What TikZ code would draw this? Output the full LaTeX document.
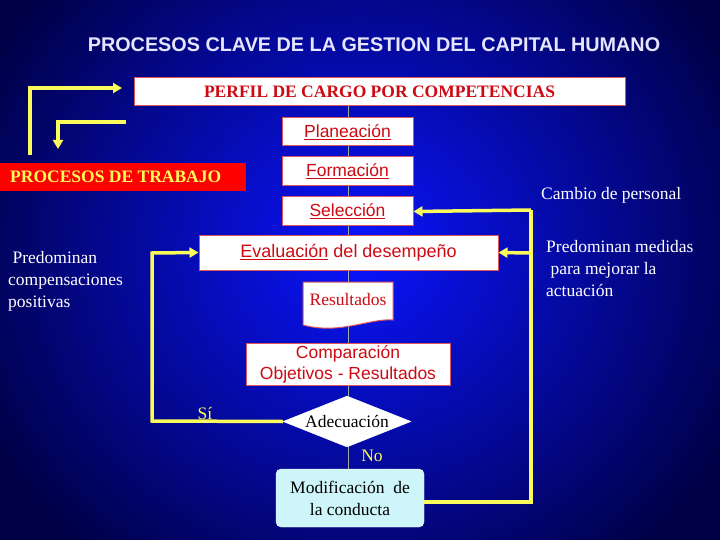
\documentclass[tikz,border=0pt]{standalone}
\usepackage{fontspec}
\setmainfont{Liberation Serif}
\newfontfamily\arial{Liberation Sans}
\usetikzlibrary{shapes.geometric,shapes.symbols,arrows.meta}
\definecolor{rtext}{RGB}{205,10,20}
\definecolor{ylw}{RGB}{250,250,90}
\definecolor{bgin}{RGB}{10,20,255}
\definecolor{bgout}{RGB}{0,0,70}
\definecolor{cyanbox}{RGB}{205,245,250}
\tikzset{
  wbox/.style={draw=rtext!70!white,line width=1pt,fill=white,inner sep=0pt,text=rtext},
  yl/.style={draw=ylw,line width=3.5pt},
  ya/.style={yl,-{Triangle[length=9pt,width=10pt]}},
  wt/.style={text=white,font=\fontsize{17.5}{22}\selectfont,align=left,inner sep=0pt},
}
\begin{document}
\begin{tikzpicture}[x=1pt,y=-1pt]
\useasboundingbox (0,0) rectangle (720,540);
\shade[inner color=bgin,outer color=bgout,shading=radial] (-60,-150) rectangle (780,650);
% title
\node (title) at (374,45) {\arial\bfseries\fontsize{19.8}{22}\selectfont\color{white!90!blue}PROCESOS CLAVE DE LA GESTION DEL CAPITAL HUMANO};
% connector spine
\draw[gray!70,line width=1pt] (348,106) -- (348,469);
\node[wbox,minimum width=491,minimum height=28,font=\bfseries\fontsize{17.5}{20}\selectfont] (perfil) at (379.5,92) {PERFIL DE CARGO POR COMPETENCIAS};
\node[wbox,minimum width=131,minimum height=28,font=\arial\fontsize{17.5}{20}\selectfont] (plan) at (347.5,132) {\underline{Planeación}};
\node[wbox,minimum width=131,minimum height=29,font=\arial\fontsize{17.5}{20}\selectfont] (form) at (347.5,171.5) {\underline{Formación}};
\node[wbox,minimum width=131,minimum height=29,font=\arial\fontsize{17.5}{20}\selectfont] (sel) at (347.5,211.5) {\underline{Selección}};
\node[wbox,minimum width=299,minimum height=35,font=\arial\fontsize{18}{20}\selectfont] (eval) at (348.5,252.5) {\underline{Evaluación} del desempeño};
% Resultados document shape
\draw[draw=rtext!70!white,line width=1pt,fill=white] (303,282) -- (393,282) -- (393,320) .. controls (370,318) and (340,335) .. (303,325) -- cycle;
\node[text=rtext,font=\fontsize{17.5}{20}\selectfont] (res) at (348,300) {Resultados};
\node[wbox,minimum width=204,minimum height=42,align=center,font=\arial\fontsize{17.5}{21}\selectfont] (comp) at (348,364) {Comparación\\Objetivos - Resultados};
\node[diamond,fill=white,draw=white,minimum width=128,minimum height=51,inner sep=0pt,aspect=2.5,font=\fontsize{17.5}{20}\selectfont,text=black] (adec) at (347,421.5) {Adecuación};
\node[rounded corners=5pt,fill=cyanbox,draw=white,minimum width=148,minimum height=58,align=center,font=\fontsize{17.5}{22}\selectfont,inner sep=0pt] (mod) at (350,498) {Modificación\ \ de\\la conducta};
\node[fill=red,minimum width=246,minimum height=28,inner sep=0pt,text=ylw,font=\bfseries\fontsize{17.5}{20}\selectfont,anchor=west] (proc) at (0,177) {\hspace*{-15pt}PROCESOS DE TRABAJO};
% yellow connectors
\coordinate (a1) at (30,155);\coordinate (a2) at (30,88);
\draw[ya] (a1) -- (a2) -- (122,88);
\coordinate (b1) at (126,122);\coordinate (b2) at (58,122);
\draw[ya] (b1) -- (b2) -- (58,149);
\coordinate (l1) at (152,421);\coordinate (l2) at (152,253);
\draw[ya] (adec.west) -- (l1) -- (l2) -- (eval.west);
\coordinate (r1) at (531,502);\coordinate (r2) at (531,210);\coordinate (r3) at (531,253);
\draw[yl] (mod.east |- r1) -- (r1) -- (r2);
\draw[ya] (r2) -- (sel.east);
\draw[ya] (r3) -- (eval.east);
% labels
\node[wt,anchor=north west] (pc) at (8,251) {\ Predominan\\compensaciones\\positivas};
\node[wt,anchor=west] (cp) at (541,195) {Cambio de personal};
\node[wt,anchor=north west] (pm) at (546,240) {Predominan medidas\\\ para mejorar la\\actuación};
\node[text=ylw,font=\fontsize{17.5}{20}\selectfont] (si) at (205,413) {Sí};
\node[text=ylw,font=\fontsize{17.5}{20}\selectfont] (no) at (372,456) {No};
\end{tikzpicture}
\end{document}
